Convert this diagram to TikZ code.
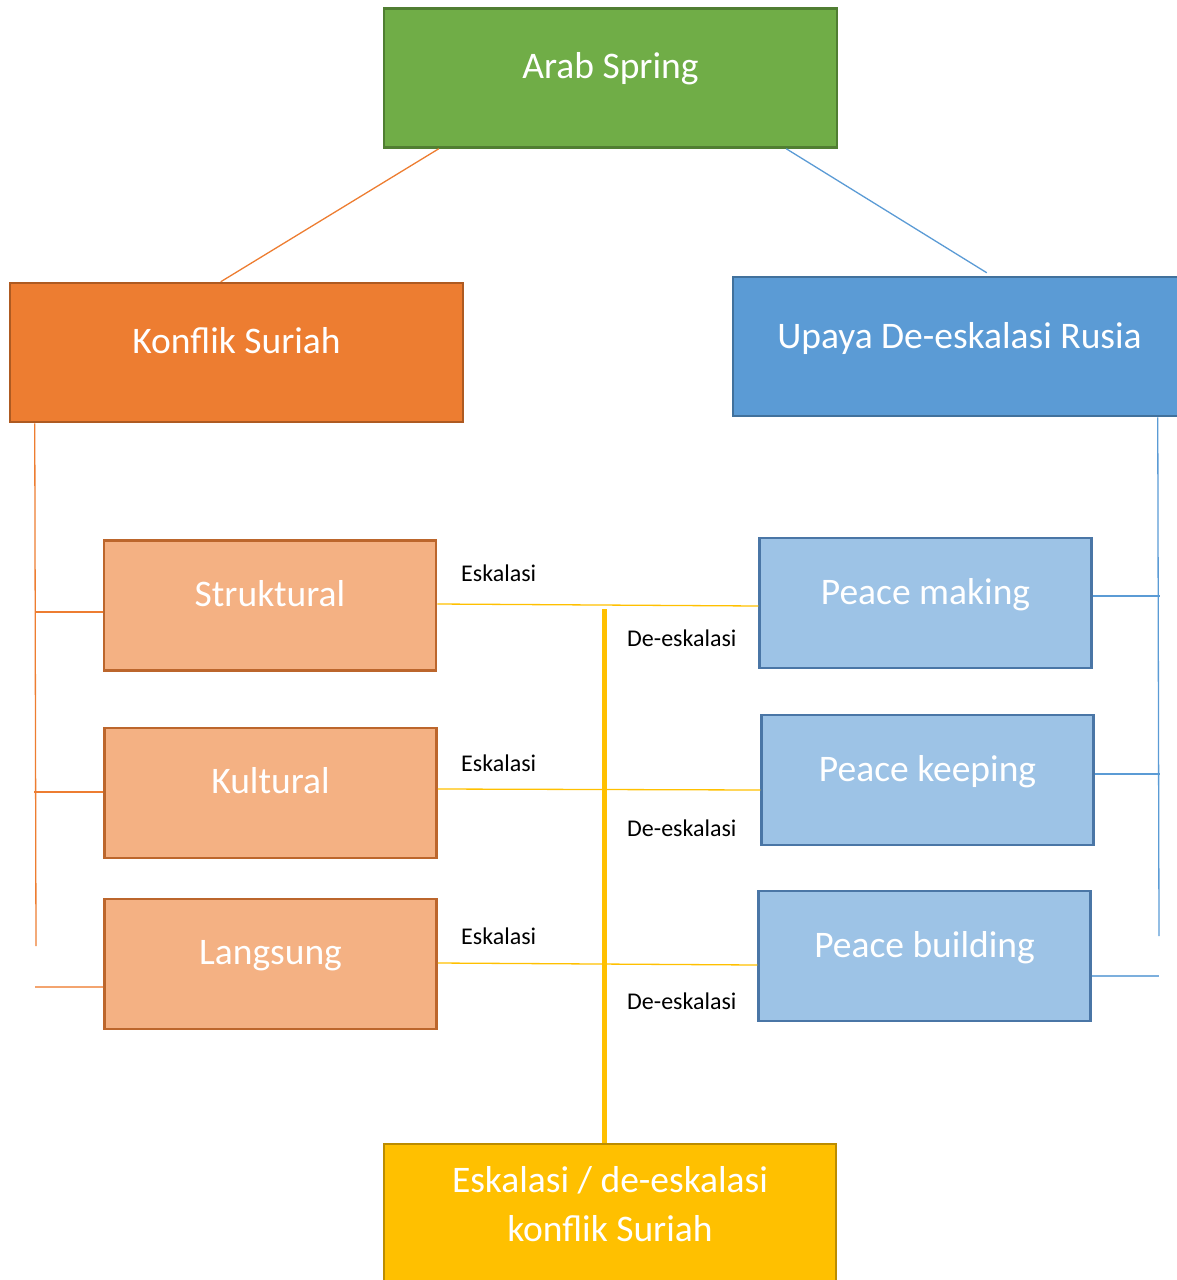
\documentclass[tikz,border=0pt]{standalone}
\usepackage{fontspec}
\setmainfont{Carlito}
\begin{document}
\begin{tikzpicture}[x=1pt,y=-1pt,
  box/.style={draw, line width=2.5pt, inner sep=0pt, minimum width=332pt, minimum height=130pt},
  bigbox/.style={draw, line width=2.5pt, inner sep=0pt, minimum width=453pt, minimum height=139pt},
  lbl/.style={text=white, font=\fontsize{37.5}{49}\selectfont, inner sep=0pt, text height=0.75em, text depth=0.25em},
  small/.style={font=\fontsize{24}{28}\selectfont, inner sep=0pt, anchor=base west},
  conn/.style={line width=1.3pt}
]
\definecolor{cgreen}{HTML}{70AD47}\definecolor{cgreenD}{HTML}{507E32}
\definecolor{corange}{HTML}{ED7D31}\definecolor{corangeD}{HTML}{AE5A21}
\definecolor{cblue}{HTML}{5B9BD5}\definecolor{cblueD}{HTML}{41719C}
\definecolor{clor}{HTML}{F4B183}\definecolor{clorD}{HTML}{BC662C}
\definecolor{clbl}{HTML}{9DC3E6}\definecolor{clblD}{HTML}{4A76A6}
\definecolor{cyel}{HTML}{FFC000}\definecolor{cyelD}{HTML}{BC8C00}
\useasboundingbox (0,0) rectangle (1177,1280);

\node[bigbox, fill=cgreen, draw=cgreenD, label={[lbl,yshift=2pt]center:Arab Spring}] (a) at (610.5,78) {};
\node[bigbox, fill=corange, draw=corangeD, label={[lbl,yshift=2pt]center:Konflik Suriah}] (k) at (236.5,352.5) {};
\node[bigbox, fill=cblue, draw=cblueD, label={[lbl,yshift=0.5pt]center:Upaya De-eskalasi Rusia}] (u) at (959.5,346.5) {};

\node[box, fill=clor, draw=clorD, label={[lbl,yshift=2pt]center:Struktural}] (s1) at (270,605.5) {};
\node[box, fill=clor, draw=clorD, label={[lbl,yshift=2pt]center:Kultural}] (s2) at (270.5,793) {};
\node[box, fill=clor, draw=clorD, label={[lbl,yshift=2.5pt]center:Langsung}] (s3) at (270.5,964) {};

\node[box, fill=clbl, draw=clblD, label={[lbl,yshift=1.5pt]center:Peace making}] (p1) at (925.5,603) {};
\node[box, fill=clbl, draw=clblD, label={[lbl,yshift=1pt]center:Peace keeping}] (p2) at (927.5,780) {};
\node[box, fill=clbl, draw=clblD, label={[lbl,yshift=1.5pt]center:Peace building}] (p3) at (924.5,956) {};

\node[bigbox, minimum width=452pt, minimum height=142pt, fill=cyel, draw=cyelD, label={[lbl,align=center,text height=,text depth=,yshift=10.5pt]center:Eskalasi / de-eskalasi\\konflik Suriah}] (e) at (610,1215) {};

% top connectors
\draw[conn, corange] ([xshift=56pt]a.south west) -- ([xshift=212pt]k.north west);
\draw[conn, cblue] ([xshift=-52pt]a.south east) -- ([xshift=255pt,yshift=3pt]u.north west);

% left tree
\coordinate (lv) at (36,946);
\draw[conn, corange] ([xshift=26pt]k.south west) -- (lv);
\draw[conn, corange] ([yshift=-6.5pt]s1.west) -- ++(-68,0);
\draw[conn, corange] ([yshift=1pt]s2.west) -- ++(-69,0);
\draw[conn, corange!70] ([yshift=-23pt]s3.west) -- ++(-68,0);

% right tree
\coordinate (rv) at (1159,936);
\draw[conn, cblue] ([xshift=426pt]u.south west) -- (rv);
\draw[conn, cblue] ([yshift=7pt]p1.east) -- ++(67,0);
\draw[conn, cblue] ([yshift=6pt]p2.east) -- ++(65,0);
\draw[conn, cblue!80] ([yshift=-20pt]p3.east) -- ++(67,0);

% yellow connectors
\draw[conn, cyel] ([yshift=1.5pt]s1.east) -- ([yshift=-3pt]p1.west);
\draw[conn, cyel] ([yshift=4pt]s2.east) -- ([yshift=-10pt]p2.west);
\draw[conn, cyel] ([yshift=1pt]s3.east) -- ([yshift=-9pt]p3.west);
\coordinate (yt) at (604,609);
\draw[line width=5pt, cyel] ([xshift=-6pt]e.north) -- (yt);

% labels
\node[small] (e1) at (461,581) {Eskalasi};
\node[small] (d1) at (627,646) {De-eskalasi};
\node[small] (e2) at (461,771) {Eskalasi};
\node[small] (d2) at (627,836) {De-eskalasi};
\node[small] (e3) at (461,944) {Eskalasi};
\node[small] (d3) at (627,1009) {De-eskalasi};
\end{tikzpicture}
\end{document}
